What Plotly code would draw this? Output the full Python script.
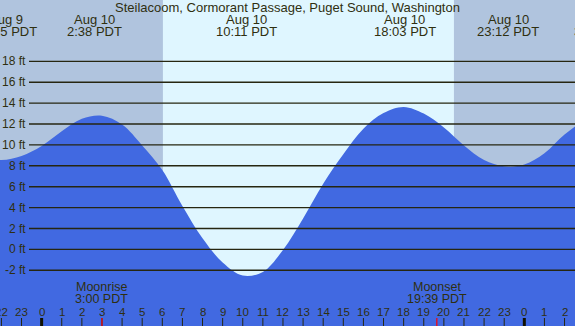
import plotly.graph_objects as go

# ---- data ----
hours = list(range(-3, 29))  # hours relative to midnight Aug 10 (PDT)
tide_ft = [8.8, 8.55, 8.95, 9.9, 11.3, 12.5, 12.8, 11.95, 9.95, 7.6, 4.15, 1.06,
           -1.25, -2.5, -2.15, -0.05, 2.97, 6.28, 9.1, 11.55, 13.05, 13.64, 13.0,
           11.67, 9.95, 8.55, 7.95, 8.12, 9.2, 11.0, 12.3, 12.8]

extreme_hours = [-1.75, 2.633, 10.183, 18.05, 23.2, 27.85]
extreme_dates = ["Aug 9", "Aug 10", "Aug 10", "Aug 10", "Aug 10", "Aug 11"]
extreme_times = ["22:15 PDT", "2:38 PDT", "10:11 PDT", "18:03 PDT", "23:12 PDT", "3:52 PDT"]

sunrise_h = 6.03
sunset_h = 20.5
moon_hours = [3.0, 19.65]
moon_names = ["Moonrise", "Moonset"]
moon_times = ["3:00 PDT", "19:39 PDT"]

tick_hours = list(range(-2, 27))
tick_labels = ["22", "23", "0", "1", "2", "3", "4", "5", "6", "7", "8", "9", "10", "11",
               "12", "13", "14", "15", "16", "17", "18", "19", "20", "21", "22", "23",
               "0", "1", "2"]

y_ticks = [-2, 0, 2, 4, 6, 8, 10, 12, 14, 16, 18]
y_tick_labels = ["-2 ft", "0 ft", "2 ft", "4 ft", "6 ft", "8 ft", "10 ft", "12 ft",
                 "14 ft", "16 ft", "18 ft"]

title_text = "Steilacoom, Cormorant Passage, Puget Sound, Washington"

# ---- styling ----
W, H = 575, 326
X_RANGE = [-2.07, 26.52]
Y_RANGE = [-7.33, 23.87]
NIGHT = "#B0C4DE"
DAY = "#DFF6FF"
WATER = "#4169E1"
TEXT = "#2f2f10"
GRID = "#262610"
FONT = "Liberation Sans"

fig = go.Figure()
base = Y_RANGE[0] - 5
fig.add_trace(go.Scatter(x=hours, y=[base] * len(hours), mode="lines",
                         line=dict(width=0, color=WATER), hoverinfo="skip",
                         showlegend=False))
fig.add_trace(go.Scatter(x=hours, y=tide_ft, mode="lines", fill="tonexty",
                         fillcolor=WATER, line=dict(width=0, color=WATER,
                                                    shape="spline", smoothing=1),
                         showlegend=False))

shapes = []
# daylight band
shapes.append(dict(type="rect", xref="x", yref="paper", x0=sunrise_h, x1=sunset_h,
                   y0=0, y1=1, fillcolor=DAY, line=dict(width=0), layer="below"))
# gridlines
for v in y_ticks:
    shapes.append(dict(type="line", xref="paper", yref="y", x0=29 / W, x1=1, y0=v, y1=v,
                       line=dict(color=GRID, width=1.4), layer="above"))
# hour ticks
tick_len = 8 / H
for h in tick_hours:
    midnight = (h % 24 == 0)
    shapes.append(dict(type="line", xref="x", yref="paper", x0=h, x1=h, y0=0, y1=tick_len,
                       line=dict(color="#111100" if midnight else GRID,
                                 width=3 if midnight else 1), layer="above"))
for h in moon_hours:
    shapes.append(dict(type="line", xref="x", yref="paper", x0=h, x1=h, y0=0, y1=tick_len,
                       line=dict(color="#ff0000", width=1.2), layer="above"))

ann = []
def py(px):
    return 1 - px / H

def xpaper(h):
    return (h - X_RANGE[0]) / (X_RANGE[1] - X_RANGE[0])

ann.append(dict(text=title_text, xref="paper", yref="paper", x=0.5, y=py(7.5),
                xanchor="center", yanchor="middle", showarrow=False,
                font=dict(size=13, color=TEXT, family=FONT)))
for h, d, t in zip(extreme_hours, extreme_dates, extreme_times):
    xp = xpaper(h)
    ann.append(dict(text=d, xref="paper", yref="paper", x=xp, y=py(19.5),
                    xanchor="center", yanchor="middle", showarrow=False,
                    font=dict(size=13, color=TEXT, family=FONT)))
    ann.append(dict(text=t, xref="paper", yref="paper", x=xp, y=py(31.5),
                    xanchor="center", yanchor="middle", showarrow=False,
                    font=dict(size=13, color=TEXT, family=FONT)))
for v, lab in zip(y_ticks, y_tick_labels):
    ann.append(dict(text=lab, xref="paper", yref="y", x=27.5 / W, y=v,
                    xanchor="right", yanchor="middle", showarrow=False,
                    font=dict(size=12, color=TEXT, family=FONT)))
for h, lab in zip(tick_hours, tick_labels):
    ann.append(dict(text=lab, xref="x", yref="paper", x=h, y=py(311.7),
                    xanchor="center", yanchor="middle", showarrow=False,
                    font=dict(size=11.5, color=TEXT, family=FONT)))
for h, n, t in zip(moon_hours, moon_names, moon_times):
    ann.append(dict(text=n, xref="x", yref="paper", x=h, y=py(287.3),
                    xanchor="center", yanchor="middle", showarrow=False,
                    font=dict(size=12.5, color=TEXT, family=FONT)))
    ann.append(dict(text=t, xref="x", yref="paper", x=h, y=py(299.3),
                    xanchor="center", yanchor="middle", showarrow=False,
                    font=dict(size=12.5, color=TEXT, family=FONT)))

fig.update_layout(
    width=W, height=H, margin=dict(l=0, r=0, t=0, b=0),
    paper_bgcolor=NIGHT, plot_bgcolor=NIGHT,
    xaxis=dict(range=X_RANGE, showgrid=False, zeroline=False, showticklabels=False,
               ticks="", fixedrange=True),
    yaxis=dict(range=Y_RANGE, showgrid=False, zeroline=False, showticklabels=False,
               ticks="", fixedrange=True),
    shapes=shapes, annotations=ann, showlegend=False,
)
fig.write_html("out.html", config={"displayModeBar": False},
               post_script="document.body.style.margin='0';document.body.style.overflow='hidden';")
